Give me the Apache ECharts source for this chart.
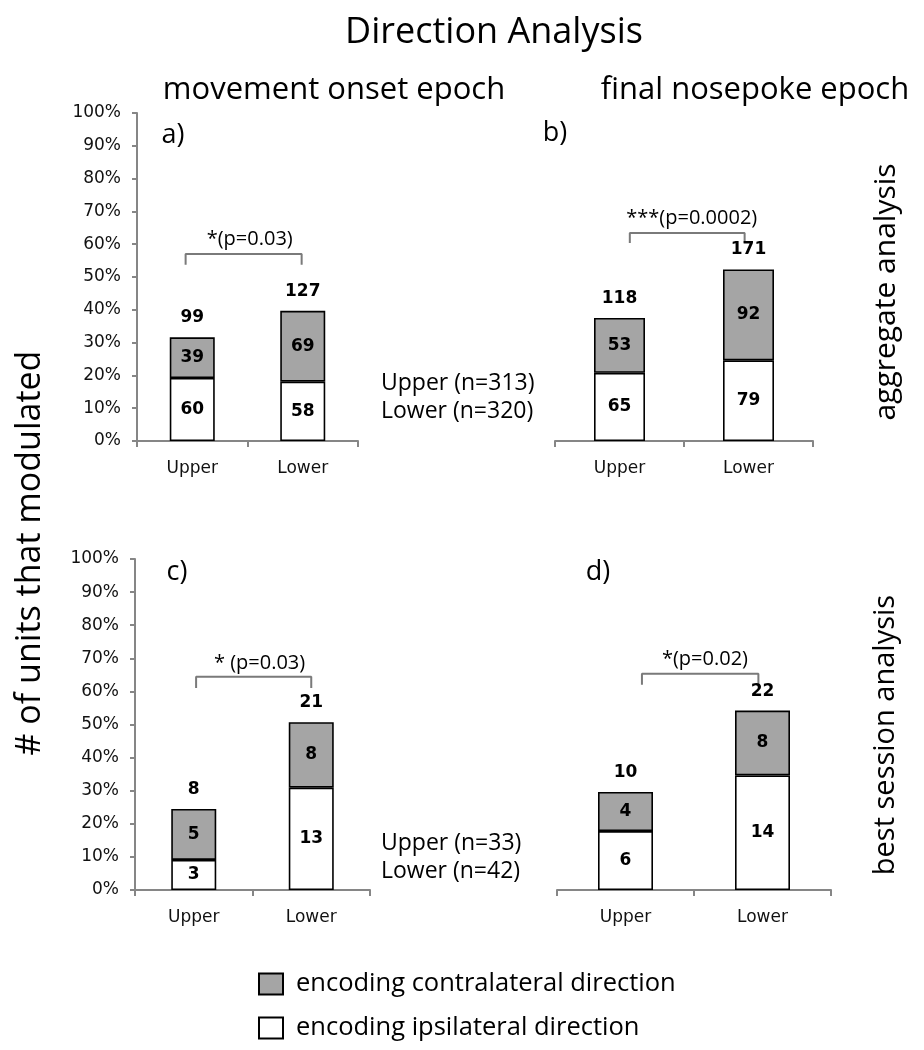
<!DOCTYPE html>
<html>
<head>
<meta charset="utf-8">
<script src="https://cdn.jsdelivr.net/npm/echarts@6/dist/echarts.min.js"></script>
<style>
html,body{margin:0;padding:0;background:#fff;}
#chart{width:924px;height:1050px;}
</style>
</head>
<body>
<div id="chart"></div>
<script>
// ---- data ----
var categories = ['Upper', 'Lower'];
var panelLetters = ['a)', 'b)', 'c)', 'd)'];
// percentage of units
var ipsiPct_a = [19.2, 18.1];
var contraPct_a = [12.4, 21.6];
var ipsiPct_b = [20.8, 24.6];
var contraPct_b = [16.7, 27.7];
var ipsiPct_c = [9.1, 30.9];
var contraPct_c = [15.4, 19.8];
var ipsiPct_d = [17.8, 34.6];
var contraPct_d = [11.8, 19.6];
// counts printed on the bars
var ipsiN_a = [60, 58], contraN_a = [39, 69], totalN_a = [99, 127];
var ipsiN_b = [65, 79], contraN_b = [53, 92], totalN_b = [118, 171];
var ipsiN_c = [3, 13], contraN_c = [5, 8], totalN_c = [8, 21];
var ipsiN_d = [6, 14], contraN_d = [4, 8], totalN_d = [10, 22];
var yTicks = [0, 10, 20, 30, 40, 50, 60, 70, 80, 90, 100];
// significance annotations: [x1, x2, legBottomPct, barTopPct, labelX, labelPct], text
var sig_a = [-0.06, 0.99, 53.7, 57.0, 0.52, 61.6], sigText_a = '*(p=0.03)';
var sig_b = [0.08, 0.97, 60.4, 63.4, 0.56, 68.0], sigText_b = '***(p=0.0002)';
var sig_c = [0.02, 1.0, 61.0, 64.4, 0.56, 68.6], sigText_c = '* (p=0.03)';
var sig_d = [0.12, 0.97, 62.0, 65.3, 0.58, 69.6], sigText_d = '*(p=0.02)';
var nText_top = ['Upper (n=313)', 'Lower (n=320)'];
var nText_bottom = ['Upper (n=33)', 'Lower (n=42)'];

var panels = [
  {ipsi: ipsiPct_a, contra: contraPct_a, iN: ipsiN_a, cN: contraN_a, tN: totalN_a, sig: sig_a, sigText: sigText_a},
  {ipsi: ipsiPct_b, contra: contraPct_b, iN: ipsiN_b, cN: contraN_b, tN: totalN_b, sig: sig_b, sigText: sigText_b},
  {ipsi: ipsiPct_c, contra: contraPct_c, iN: ipsiN_c, cN: contraN_c, tN: totalN_c, sig: sig_c, sigText: sigText_c},
  {ipsi: ipsiPct_d, contra: contraPct_d, iN: ipsiN_d, cN: contraN_d, tN: totalN_d, sig: sig_d, sigText: sigText_d}
];

// ---- layout ----
var grids = [
  {left: 137, top: 113, width: 221, height: 328},
  {left: 555, top: 113, width: 258, height: 328},
  {left: 135, top: 559, width: 235, height: 331},
  {left: 557, top: 559, width: 274, height: 331}
];
var barWidths = [45, 51, 45, 55];
var showY = [true, false, true, false];

var AX = '#868686';
var TXT = '#111';
var HEAD = '"Open Sans", "Noto Sans", sans-serif';
var NUMF = '"DejaVu Sans", Verdana, sans-serif';
var NAME_C = 'encoding contralateral direction';
var NAME_I = 'encoding ipsilateral direction';

var xAxes = [], yAxes = [], series = [];
grids.forEach(function (g, i) {
  xAxes.push({
    type: 'category', gridIndex: i, data: categories,
    axisLine: {onZero: false, lineStyle: {color: AX, width: 2}},
    axisTick: {show: true, length: 6, lineStyle: {color: AX, width: 2}},
    axisLabel: {color: TXT, fontFamily: NUMF, fontSize: 17, margin: 19}
  });
  xAxes.push({type: 'value', gridIndex: i, min: -0.5, max: 1.5, show: false});
  yAxes.push({
    type: 'value', gridIndex: i, min: 0, max: 100, interval: 10,
    show: showY[i],
    splitLine: {show: false},
    axisLine: {show: true, onZero: false, lineStyle: {color: AX, width: 2}},
    axisTick: {show: true, length: 5, lineStyle: {color: AX, width: 2}},
    axisLabel: {color: TXT, fontFamily: NUMF, fontSize: 17, margin: 16, formatter: '{value}%'}
  });
  var p = panels[i];
  var lbl = {show: true, position: 'inside', color: '#000', fontFamily: NUMF, fontWeight: 'bold', fontSize: 17};
  series.push({
    name: NAME_I, type: 'bar', xAxisIndex: 2 * i, yAxisIndex: i, stack: 's' + i,
    barWidth: barWidths[i], data: p.ipsi,
    itemStyle: {color: '#ffffff', borderColor: '#000', borderWidth: 1.6},
    label: Object.assign({}, lbl, {formatter: function (pp) { return p.iN[pp.dataIndex]; }}),
    emphasis: {disabled: true}
  });
  series.push({
    name: NAME_C, type: 'bar', xAxisIndex: 2 * i, yAxisIndex: i, stack: 's' + i,
    barWidth: barWidths[i], data: p.contra,
    itemStyle: {color: '#a5a5a5', borderColor: '#000', borderWidth: 1.6},
    label: Object.assign({}, lbl, {formatter: function (pp) { return p.cN[pp.dataIndex]; }}),
    emphasis: {disabled: true}
  });
  // totals above each bar
  series.push({
    type: 'scatter', xAxisIndex: 2 * i, yAxisIndex: i, symbolSize: 0,
    data: p.ipsi.map(function (v, k) { return v + p.contra[k]; }),
    itemStyle: {color: '#000', opacity: 1},
    label: Object.assign({}, lbl, {position: 'top', distance: 11, formatter: function (pp) { return p.tN[pp.dataIndex]; }}),
    silent: true, z: 5
  });
  // significance bracket
  var s = p.sig;
  series.push({
    type: 'line', xAxisIndex: 2 * i + 1, yAxisIndex: i, symbol: 'none', silent: true,
    data: [[s[0], s[2]], [s[0], s[3]], [s[1], s[3]], [s[1], s[2]]],
    lineStyle: {color: '#7a7a7a', width: 2}
  });
  series.push({
    type: 'scatter', xAxisIndex: 2 * i + 1, yAxisIndex: i, symbolSize: 0, silent: true,
    data: [[s[4], s[5]]],
    itemStyle: {color: '#000', opacity: 1},
    label: {show: true, position: 'inside', formatter: p.sigText, color: '#000', fontFamily: HEAD, fontSize: 20}
  });
});

function txt(x, y, text, size, opts) {
  return Object.assign({
    type: 'text', x: x, y: y,
    style: {text: text, fill: '#000', font: size + 'px ' + HEAD, textAlign: 'center', textVerticalAlign: 'middle'}
  }, opts || {});
}

var graphics = [
  txt(494, 33, 'Direction Analysis', 36),
  txt(334, 90, 'movement onset epoch', 31),
  txt(755, 90, 'final nosepoke epoch', 31),
  txt(173, 135, panelLetters[0], 27),
  txt(555, 133, panelLetters[1], 27),
  txt(177, 572, panelLetters[2], 27),
  txt(598, 572, panelLetters[3], 27),
  txt(30, 553, '# of units that modulated', 34, {rotation: Math.PI / 2}),
  txt(886, 292, 'aggregate analysis', 30, {rotation: Math.PI / 2}),
  txt(886, 735, 'best session analysis', 29, {rotation: Math.PI / 2})
];
function leftTxt(x, y, text, size) {
  var t = txt(x, y, text, size);
  t.style.textAlign = 'left';
  return t;
}
graphics.push(leftTxt(381, 383, nText_top[0], 23));
graphics.push(leftTxt(381, 411, nText_top[1], 23));
graphics.push(leftTxt(381, 843, nText_bottom[0], 23));
graphics.push(leftTxt(381, 871, nText_bottom[1], 23));

var chart = echarts.init(document.getElementById('chart'), null, {renderer: 'canvas'});
chart.setOption({
  animation: false,
  backgroundColor: '#fff',
  grid: grids,
  xAxis: xAxes,
  yAxis: yAxes,
  legend: {
    data: [NAME_C, NAME_I], orient: 'vertical', left: 253, top: 966,
    itemWidth: 24, itemHeight: 21, itemGap: 18, icon: 'rect', selectedMode: false,
    textStyle: {fontFamily: HEAD, fontSize: 25.5, color: '#000', padding: [0, 0, 0, 8]}
  },
  graphic: graphics,
  series: series
});
</script>
</body>
</html>
